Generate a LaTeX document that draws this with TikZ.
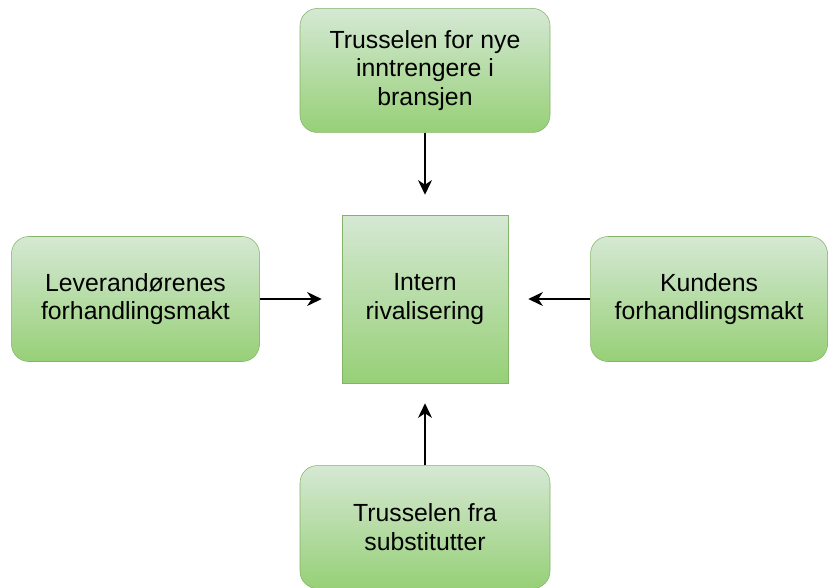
\documentclass[tikz,border=0pt]{standalone}
\usepackage{fontspec}
\setmainfont{Liberation Sans}
\usepackage{tikz}
\usetikzlibrary{positioning,arrows.meta}

\definecolor{boxtop}{HTML}{D5E8D4}
\definecolor{boxbottom}{HTML}{97D077}
\definecolor{boxline}{HTML}{82B366}

\begin{document}
\begin{tikzpicture}[x=0.75pt, y=-0.75pt,
	force/.style={draw=boxline,
		top color=boxtop,
		bottom color=boxbottom,
		rounded corners=13pt,
		minimum width=187.5pt,
		minimum height=93pt,
		align=center,
		font=\fontsize{18.6}{21.5}\selectfont,
	},
	push/.style={-{Stealth[length=11pt,width=10.5pt,inset=3.5pt]}, line width=1.1pt, shorten >=15pt},
]

\useasboundingbox (0,0) rectangle (828,587);

% Intern rivalisering
\node [draw=boxline,
	top color=boxtop,
	bottom color=boxbottom,
	minimum width=124.5pt,
	minimum height=126pt,
	align=center,
	font=\fontsize{18.6}{21.5}\selectfont,
] (rivalry) at (425,299) {
Intern\\rivalisering
};

% Nye inntrengere
\node [force,
	above = 61.5pt of rivalry
] (entrants) {
Trusselen for nye\\inntrengere i\\bransjen
};

% Leverandører
\node [force,
	minimum width=186pt,
	minimum height=93.75pt,
	left = 61.5pt of rivalry
] (suppliers) {
Leverandørenes\\forhandlingsmakt
};

% Kunder
\node [force,
	minimum width=177.75pt,
	minimum height=93.75pt,
	right = 61.5pt of rivalry
] (buyers) {
Kundens\\forhandlingsmakt
};

% Substitutter
\node [force,
	minimum height=92.25pt,
	below = 61.5pt of rivalry
] (substitutes) {
Trusselen fra\\substitutter
};

% Arrows
\draw[push] (entrants) -- (rivalry);
\draw[push] (suppliers) -- (rivalry);
\draw[push] (buyers) -- (rivalry);
\draw[push] (substitutes) -- (rivalry);

\end{tikzpicture}
\end{document}
